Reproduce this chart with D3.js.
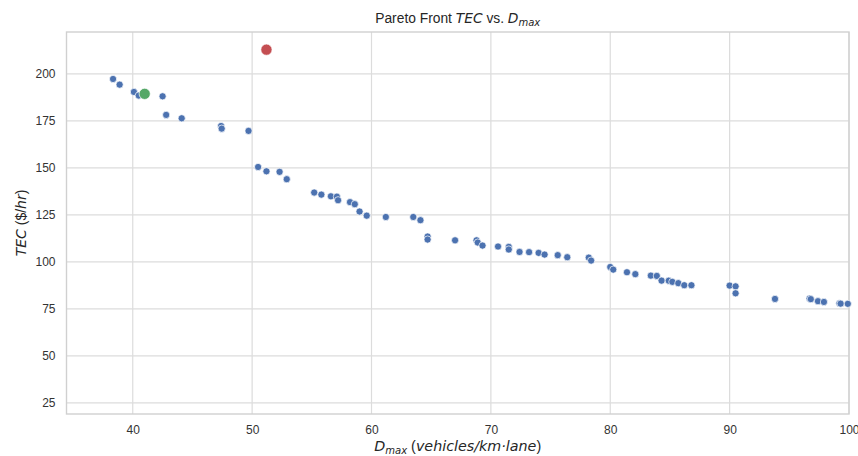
<!DOCTYPE html>
<html>
<head>
<meta charset="utf-8">
<script src="https://cdn.jsdelivr.net/npm/d3@7"></script>
<style>
  body { margin: 0; background: #fff; }
  svg { font-family: "Liberation Sans", Arial, sans-serif; }
  .tick text { fill: #333; font-size: 12px; }
  .grid line { stroke: #dcdcdc; stroke-width: 1.2; }
  .math { font-family: "DejaVu Sans", sans-serif; font-style: italic; }
</style>
</head>
<body>
<svg id="chart" width="858" height="456"></svg>
<script>
// Pareto front points (D_max, TEC)
const dmax = [38.35, 38.9, 40.1, 40.5, 42.5, 42.8, 44.1, 47.4, 47.45, 49.7,
  50.5, 51.2, 52.3, 52.9, 55.2, 55.8, 56.6, 57.1, 57.2, 58.2, 58.6, 59.0, 59.6,
  61.2, 63.5, 64.1, 64.7, 64.7, 67.0, 68.8, 68.9, 69.3, 70.6, 71.5, 71.5, 72.4,
  73.2, 74.0, 74.5, 75.6, 76.4, 78.2, 78.4, 80.0, 80.25, 81.4, 82.1, 83.4, 83.9,
  84.3, 84.9, 85.2, 85.7, 86.2, 86.8, 90.0, 90.5, 90.5, 93.8, 96.7, 96.8, 97.4,
  97.9, 99.2, 99.3, 99.9];
const tec = [197.3, 194.3, 190.4, 188.5, 188.1, 178.2, 176.4, 172.3, 170.9, 169.7,
  150.5, 148.2, 147.9, 144.0, 136.9, 135.8, 134.9, 134.7, 132.8, 131.8, 130.7, 126.8, 124.6,
  123.9, 123.9, 122.2, 113.5, 111.9, 111.5, 111.5, 110.3, 108.7, 108.2, 108.0, 106.6, 105.3,
  105.2, 104.8, 103.9, 103.6, 102.5, 102.3, 100.7, 97.3, 95.9, 94.5, 93.5, 92.7, 92.55,
  90.05, 90.0, 89.4, 88.7, 87.6, 87.6, 87.4, 87.0, 83.3, 80.3, 80.5, 80.2, 79.1,
  78.7, 78.0, 77.8, 77.7];
// highlighted solutions
const selected = { x: 41.0, y: 189.4 };
const reference = { x: 51.2, y: 212.9 };

const xTicks = [40, 50, 60, 70, 80, 90, 100];
const yTicks = [25, 50, 75, 100, 125, 150, 175, 200];

const svg = d3.select('#chart');
const margin = { top: 32, right: 9, bottom: 42, left: 66.5 };
const innerWidth = 858 - margin.left - margin.right;
const innerHeight = 456 - margin.top - margin.bottom;

const g = svg.append('g')
  .attr('transform', `translate(${margin.left},${margin.top})`);

const xScale = d3.scaleLinear().domain([34.45, 100]).range([0, innerWidth]);
const yScale = d3.scaleLinear().domain([19.1, 222.3]).range([innerHeight, 0]);

// grid
g.append('g').attr('class', 'grid')
  .selectAll('line').data(xTicks).enter().append('line')
  .attr('x1', d => xScale(d)).attr('x2', d => xScale(d))
  .attr('y1', 0).attr('y2', innerHeight);
g.append('g').attr('class', 'grid')
  .selectAll('line').data(yTicks).enter().append('line')
  .attr('y1', d => yScale(d)).attr('y2', d => yScale(d))
  .attr('x1', 0).attr('x2', innerWidth);

// axes (no tick marks, seaborn whitegrid)
const xAxis = g.append('g')
  .attr('transform', `translate(0,${innerHeight})`)
  .call(d3.axisBottom(xScale).tickValues(xTicks).tickSize(0).tickPadding(11));
const yAxis = g.append('g')
  .call(d3.axisLeft(yScale).tickValues(yTicks).tickSize(0).tickPadding(11));
xAxis.select('.domain').remove();
yAxis.select('.domain').remove();

// frame
g.append('rect')
  .attr('width', innerWidth).attr('height', innerHeight)
  .style('fill', 'none').style('stroke', '#d0d0d0').style('stroke-width', 1.4);

// points
const pts = dmax.map((d, i) => ({ x: d, y: tec[i] }));
g.selectAll('circle.pt')
  .data(pts).enter().append('circle')
  .attr('class', 'pt')
  .attr('cx', d => xScale(d.x))
  .attr('cy', d => yScale(d.y))
  .attr('r', 3.6)
  .style('fill', '#4c72b0')
  .style('stroke', '#fff')
  .style('stroke-width', 0.7);

g.selectAll('circle.hl')
  .data([selected, reference]).enter().append('circle')
  .attr('class', 'hl')
  .attr('cx', d => xScale(d.x))
  .attr('cy', d => yScale(d.y))
  .attr('r', 5.6)
  .style('fill', (d, i) => i === 0 ? '#55a868' : '#c44e52')
  .style('stroke', '#fff')
  .style('stroke-width', 0.7);

// title
const title = svg.append('text')
  .attr('x', margin.left + innerWidth / 2)
  .attr('y', 23)
  .style('text-anchor', 'middle')
  .style('font-size', '13.8px')
  .style('fill', '#262626');
title.append('tspan').text('Pareto Front ');
title.append('tspan').attr('class', 'math').text('TEC');
title.append('tspan').text(' vs. ');
title.append('tspan').attr('class', 'math').text('D');
title.append('tspan').attr('class', 'math').style('font-size', '10px').attr('dy', 3).text('max');

// axis labels
const xl = svg.append('text')
  .attr('x', margin.left + innerWidth / 2)
  .attr('y', 451)
  .style('text-anchor', 'middle')
  .style('font-size', '14.3px')
  .style('fill', '#262626');
xl.append('tspan').attr('class', 'math').text('D');
xl.append('tspan').attr('class', 'math').style('font-size', '10px').attr('dy', 3).text('max');
xl.append('tspan').attr('dy', -3).text(' (');
xl.append('tspan').attr('class', 'math').text('vehicles/km·lane');
xl.append('tspan').text(')');

const yl = svg.append('text')
  .attr('transform', `translate(26,${margin.top + innerHeight / 2}) rotate(-90)`)
  .style('text-anchor', 'middle')
  .style('font-size', '14px')
  .style('fill', '#262626');
yl.append('tspan').attr('class', 'math').text('TEC');
yl.append('tspan').text(' ($/');
yl.append('tspan').attr('class', 'math').text('hr');
yl.append('tspan').text(')');
</script>
</body>
</html>
